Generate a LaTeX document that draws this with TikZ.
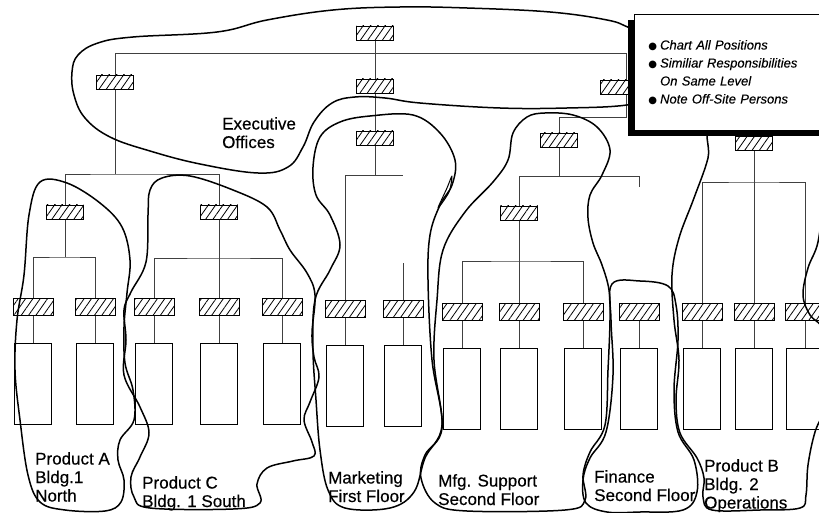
\documentclass[tikz,border=0pt]{standalone}
\usepackage{fontspec}
\setmainfont{Liberation Sans}
\newfontfamily\dotfont{DejaVu Sans}
\usetikzlibrary{positioning,patterns.meta,shadows}

\newcommand{\dotmark}{{\dotfont\upshape\fontsize{10}{18}\selectfont ●}\hspace{3pt}}

\tikzset{
  post/.style={draw, line width=0.8pt, minimum width=37pt, minimum height=14pt, inner sep=0pt,
    preaction={fill=white}, pattern={Lines[angle=55,distance=6pt,line width=0.8pt]}},
  postwide/.style={post, minimum width=40pt, minimum height=17pt},
  slot/.style={draw, line width=0.7pt, minimum width=37pt, minimum height=81pt, inner sep=0pt},
  link/.style={line width=0.6pt, black!75},
  zone/.style={line width=1.5pt, line join=round},
  tag/.style={anchor=north west, inner sep=0pt, align=left,
    font=\addfontfeature{FakeBold=0.4}\fontsize{17}{18.5}\selectfont},
  notes/.style={anchor=north west, draw, line width=0.8pt, fill=white, minimum width=200pt,
    minimum height=116pt, inner xsep=14pt, text width=172pt, align=left,
    font=\itshape\addfontfeature{FakeBold=0.3}\fontsize{13}{18}\selectfont,
    drop shadow={shadow xshift=-6pt, shadow yshift=-6pt, opacity=1, fill=black}},
}

\begin{document}
\begin{tikzpicture}[x=1pt,y=-1pt]
\fill[white] (0,0) rectangle (819,513);
\useasboundingbox (0,0) rectangle (819,513);

% executive level
\node[post] (top) at (375,33) {};
\node[post] (exL) at (115,82) {};
\node[post] (ex2) at (375,86) {};
\node[post] (exR) at (619,87) {};
% department heads
\node[post] (mkt) at (375,138) {};
\node[post] (mfg) at (559,140) {};
\node[post] (pB) at (754,143) {};
\node[post] (pA) at (65,212) {};
\node[post] (pC) at (219,212) {};
\node[post] (mfgS) at (519,213) {};
% positions
\node[postwide] (a1) at (33,307) {};
\node[postwide] (a2) at (95,307) {};
\node[postwide] (c1) at (154,307) {};
\node[postwide] (c2) at (219,307) {};
\node[postwide] (c3) at (282,307) {};
\node[postwide] (m1) at (345,309) {};
\node[postwide] (m2) at (403,309) {};
\node[postwide] (f1) at (462,312) {};
\node[postwide] (f2) at (519,312) {};
\node[postwide] (f3) at (583,312) {};
\node[postwide] (fin) at (639,312) {};
\node[postwide] (b1) at (702,312) {};
\node[postwide] (b2) at (754,312) {};
\node[postwide] (b3) at (805,312) {};

\foreach \p in {a1,a2,c1,c2,c3,m1,m2,f1,f2,f3,fin,b1,b2,b3}{
  \node[slot, below=27pt of \p] (s\p) {};
  \draw[link] (\p) -- (s\p);
}

% bus lines
\coordinate (busR) at (626,53);
\coordinate (busD) at (626,117);
\coordinate (jA) at (115,174);
\coordinate (jPA) at (65,257);
\coordinate (jPC) at (219,258);
\coordinate (jM) at (375,175);
\coordinate (jM2) at (403,175);
\coordinate (jF) at (559,176);
\coordinate (jF2) at (639,176);
\coordinate (jFS) at (519,261);
\coordinate (jB) at (754,182);

\draw[link] (top) -- (ex2) -- (mkt);
\draw[link] (exL) |- (busR) -- (busD) -| (mfg);
\draw[link] (exL) -- (jA);
\draw[link] (pA) |- (jA) -| (pC);
\draw[link] (pA) -- (jPA);
\draw[link] (a1) |- (jPA) -| (a2);
\draw[link] (pC) -- (c2);
\draw[link] (c1) |- (jPC) -| (c3);
\draw[link] (mkt) -- (jM);
\draw[link] (m1) |- (jM2);
\draw[link] (m2) -- ++(0,-46);
\draw[link] (mfg) -- (jF);
\draw[link] (mfgS) |- (jF2) -- ++(0,11);
\draw[link] (mfgS) -- (f2);
\draw[link] (f1) |- (jFS) -| (f3);
\draw[link] (pB) -- (b2);
\draw[link] (b1) |- (jB) -| (b3);

% redraw boxes over the lines
\foreach \p in {top,exL,ex2,exR,mkt,mfg,pB,pA,pC,mfgS}
  \node[post] at (\p) {};
\foreach \p in {a1,a2,c1,c2,c3,m1,m2,f1,f2,f3,fin,b1,b2,b3}
  \node[postwide] at (\p) {};

% Executive Offices
\draw[zone] plot[smooth cycle, tension=0.65] coordinates {(630,28) (607,20) (550,12) (467,8) (400,7) (333,10) (267,20) (217,32) (133,37) (98,43) (78,55) (72,72) (74,95) (85,118) (110,137) (150,151) (200,164) (258,173) (288,167) (303,147) (314,122) (332,103) (355,97) (385,98) (420,103) (500,108) (567,108) (627,105) (665,95) (670,45)};
% Marketing
\draw[zone] plot[smooth cycle, tension=0.6] coordinates {(313,167) (320,137) (340,122) (370,116) (413,115) (440,133) (455,160) (452,185) (440,205) (430,235) (428,280) (432,360) (442,425) (425,458) (414,492) (390,508) (345,508) (328,490) (320,450) (316,400) (313,350) (315,300) (330,270) (340,245) (330,215) (316,195)};
\draw[zone, line width=1pt] plot[smooth cycle] coordinates {(438,208) (447,188) (452,176) (449,192)};
% Mfg. Support
\draw[zone] plot[smooth cycle, tension=0.6] coordinates {(513,133) (527,117) (545,113) (573,115) (597,127) (610,150) (602,175) (590,195) (588,218) (593,243) (602,265) (609,290) (610,320) (608,370) (605,425) (590,452) (583,475) (585,500) (565,510) (467,511) (435,503) (421,478) (425,455) (442,428) (434,360) (437,300) (443,250) (465,212) (493,182) (508,160)};
% Finance
\draw[zone] plot[smooth cycle, tension=0.6] coordinates {(612,284) (640,281) (668,286) (676,305) (678,340) (674,390) (678,432) (694,460) (697,492) (683,510) (640,512) (607,512) (586,503) (583,480) (590,458) (606,432) (613,375) (611,320)};
% Product B
\draw[zone] plot[smooth cycle, tension=0.6] coordinates {(712,125) (708,158) (694,198) (679,238) (672,275) (674,320) (679,360) (676,400) (680,433) (697,458) (704,478) (703,497) (712,510) (760,510) (800,508) (806,495) (808,465) (815,432) (826,405) (830,365) (824,330) (810,315) (803,295) (808,268) (818,242) (822,200) (822,130) (770,118)};
% Product A
\draw[zone] plot[smooth cycle, tension=0.6] coordinates {(40,182) (67,183) (100,203) (122,227) (130,260) (127,293) (124,327) (125,363) (133,390) (134,420) (120,440) (118,460) (124,480) (121,502) (105,511) (65,510) (40,502) (28,475) (20,420) (15,370) (17,320) (24,275) (29,215)};
% Product C
\draw[zone] plot[smooth cycle, tension=0.6] coordinates {(150,190) (162,178) (190,176) (233,190) (267,207) (280,230) (290,250) (307,273) (315,295) (312,333) (314,357) (319,377) (310,402) (304,420) (312,442) (314,456) (293,461) (267,468) (257,484) (260,503) (233,509) (150,508) (134,497) (131,477) (140,457) (149,433) (140,407) (124,375) (126,340) (124,310) (131,292) (146,262) (148,215)};

% notes
\node[notes] (notes) at (634,14) {\dotmark Chart All Positions\\
  \dotmark Similiar Responsibilities\\
  \phantom{\dotmark}On Same Level\\
  \dotmark Note Off-Site Persons};

% zone labels
\node[tag] (lExec) at (222,117) {Executive\\Offices};
\node[tag] (lA) at (35,452) {Product A\\Bldg.1\\North};
\node[tag] (lC) at (142,476) {Product C\\Bldg. 1 South};
\node[tag] (lM) at (328,471) {Marketing\\First Floor};
\node[tag] (lF) at (438,474) {Mfg. Support\\Second Floor};
\node[tag] (lFin) at (594,470) {Finance\\Second Floor};
\node[tag] (lB) at (704,459) {Product B\\Bldg. 2\\Operations};
\end{tikzpicture}
\end{document}
